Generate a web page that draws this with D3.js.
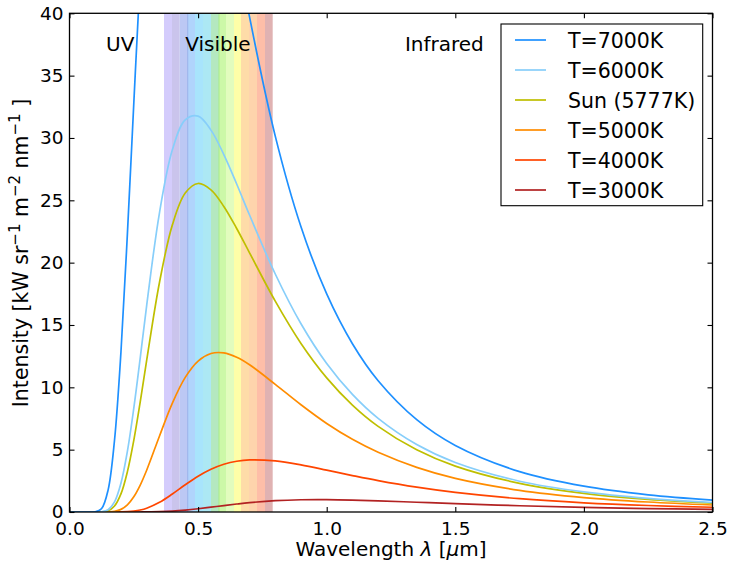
<!DOCTYPE html>
<html>
<head>
<meta charset="utf-8">
<script src="https://cdn.jsdelivr.net/npm/d3@7"></script>
<style>
  html, body { margin: 0; padding: 0; background: #fff; }
  svg { display: block; font-family: "DejaVu Sans", sans-serif; }
</style>
</head>
<body>
<svg id="chart" width="731" height="562"></svg>
<script>
// ---- data ----
const wavelengths = [0, 0.05, 0.10, 0.125, 0.15, 0.175, 0.20, 0.225, 0.25, 0.275, 0.30, 0.35, 0.40, 0.45, 0.50, 0.55, 0.60, 0.65, 0.70, 0.80, 0.90, 1.00, 1.10, 1.20, 1.35, 1.50, 1.75, 2.00, 2.25, 2.50];

const t7000 = [0, 0, 0.014, 0.282, 1.755, 5.754, 12.81, 22.27, 32.79, 43.00, 51.91, 64.02, 68.63, 67.72, 63.52, 57.75, 51.49, 45.37, 39.71, 30.15, 22.88, 17.49, 13.50, 10.53, 7.41, 5.34, 3.24, 2.07, 1.38, 0.96];
const t6000 = [0, 0, 0.0005, 0.018, 0.179, 0.812, 2.31, 4.86, 8.33, 12.37, 16.56, 24.02, 29.05, 31.45, 31.75, 30.63, 28.67, 26.31, 23.82, 19.09, 15.10, 11.91, 9.43, 7.51, 5.41, 3.97, 2.47, 1.61, 1.09, 0.76];
const tSun  = [0, 0, 0.0002, 0.009, 0.096, 0.479, 1.45, 3.22, 5.75, 8.83, 12.16, 18.43, 23.03, 25.58, 26.35, 25.84, 24.51, 22.74, 20.79, 16.91, 13.52, 10.76, 8.58, 6.87, 4.99, 3.68, 2.30, 1.50, 1.02, 0.71];
const t5000 = [0, 0, 0, 0.0004, 0.007, 0.052, 0.210, 0.576, 1.223, 2.162, 3.35, 6.10, 8.74, 10.80, 12.11, 12.71, 12.76, 12.41, 11.81, 10.24, 8.60, 7.10, 5.83, 4.79, 3.58, 2.70, 1.74, 1.16, 0.80, 0.56];
const t4000 = [0, 0, 0, 0, 0.0001, 0.0009, 0.006, 0.024, 0.069, 0.158, 0.304, 0.780, 1.446, 2.180, 2.865, 3.423, 3.825, 4.072, 4.181, 4.098, 3.776, 3.356, 2.922, 2.514, 1.988, 1.568, 1.066, 0.738, 0.523, 0.379];
const t3000 = [0, 0, 0, 0, 0, 0, 0, 0.0001, 0.0006, 0.002, 0.0056, 0.025, 0.072, 0.152, 0.260, 0.387, 0.517, 0.641, 0.751, 0.908, 0.983, 0.992, 0.957, 0.896, 0.783, 0.668, 0.501, 0.372, 0.278, 0.210];

const seriesNames  = ["T=7000K", "T=6000K", "Sun (5777K)", "T=5000K", "T=4000K", "T=3000K"];
const seriesValues = [t7000, t6000, tSun, t5000, t4000, t3000];
const seriesColors = ["#1e90ff", "#87cefa", "#bfbf00", "#ff8c00", "#ff4500", "#b22222"];

// visible-spectrum bands (edges in µm) and their colours
const bandEdges  = [0.3674, 0.3985, 0.4285, 0.4596, 0.4880, 0.5191, 0.5502, 0.5813, 0.6085, 0.6396, 0.6668, 0.6979, 0.7290, 0.7601, 0.7900];
const bandColors = ["#d4ccfc", "#cac4ec", "#bcc8f4", "#b0d4fc", "#a8e4fc", "#ace8f4", "#b4e8c0", "#ccf8a8", "#e2fcbe", "#fefea8", "#fedca8", "#fed4ac", "#febea8", "#e0b2b2"];
const bandLines  = [0.4596, 0.5813];
const bandLineColors = ["#98b0ea", "#a8ec88"];

const xTicks = [0, 0.5, 1.0, 1.5, 2.0, 2.5];
const yTicks = [0, 5, 10, 15, 20, 25, 30, 35, 40];

const regionLabels = ["UV", "Visible", "Infrared"];
const regionX = [0.142, 0.450, 1.304];
const regionY = 36.95;

// ---- layout ----
const L = 69.5, R = 712.5, T = 13.3, B = 512;
const svg = d3.select("#chart");
const x = d3.scaleLinear().domain([0, 2.5]).range([L, R]);
const y = d3.scaleLinear().domain([0, 40]).range([B, T]);

svg.append("defs").append("clipPath").attr("id", "plotclip")
  .append("rect").attr("x", L).attr("y", T).attr("width", R - L).attr("height", B - T);

const plot = svg.append("g").attr("clip-path", "url(#plotclip)");

// bands
const bands = d3.range(bandColors.length).map(i => ({x0: bandEdges[i], x1: bandEdges[i + 1], c: bandColors[i]}));
plot.selectAll("rect.band").data(bands).join("rect")
  .attr("class", "band")
  .attr("x", d => x(d.x0)).attr("width", d => x(d.x1) - x(d.x0))
  .attr("y", y(40)).attr("height", y(0) - y(40))
  .attr("fill", d => d.c);
plot.selectAll("line.bandline").data(bandLines).join("line")
  .attr("class", "bandline")
  .attr("x1", d => x(d)).attr("x2", d => x(d))
  .attr("y1", y(40)).attr("y2", y(0))
  .attr("stroke", (d, i) => bandLineColors[i]).attr("stroke-width", 1);

// curves
const line = d3.line()
  .x(d => x(d[0])).y(d => y(d[1]))
  .curve(d3.curveCatmullRom.alpha(0.5));

const series = seriesValues.map((vals, i) => ({
  name: seriesNames[i], color: seriesColors[i],
  pts: wavelengths.map((w, j) => [w, vals[j]])
}));
plot.selectAll("path.curve").data(series.slice().reverse()).join("path")
  .attr("class", "curve")
  .attr("d", d => line(d.pts))
  .attr("fill", "none")
  .attr("stroke", d => d.color)
  .attr("stroke-width", 1.7);

// region labels
svg.selectAll("text.region").data(regionLabels).join("text")
  .attr("class", "region")
  .attr("x", (d, i) => x(regionX[i])).attr("y", y(regionY))
  .attr("font-size", 20).attr("fill", "#000")
  .text(d => d);

// axes (inward ticks on all sides)
const tickLen = 5;
const styleAxis = g => {
  g.select(".domain").remove();
  g.selectAll(".tick line").attr("stroke", "#000").attr("stroke-width", 1.1);
  g.selectAll(".tick text").attr("fill", "#000").attr("font-size", 18.5).attr("font-family", "DejaVu Sans");
};
svg.append("g").attr("transform", `translate(0,${B})`)
  .call(d3.axisBottom(x).tickValues(xTicks).tickFormat(d3.format(".1f")).tickSizeInner(-tickLen).tickSizeOuter(0).tickPadding(10))
  .call(styleAxis);
svg.append("g").attr("transform", `translate(0,${T})`)
  .call(d3.axisTop(x).tickValues(xTicks).tickFormat("").tickSizeInner(-tickLen).tickSizeOuter(0))
  .call(styleAxis);
svg.append("g").attr("transform", `translate(${L},0)`)
  .call(d3.axisLeft(y).tickValues(yTicks).tickFormat(d3.format("d")).tickSizeInner(-tickLen).tickSizeOuter(0).tickPadding(6))
  .call(styleAxis);
svg.append("g").attr("transform", `translate(${R},0)`)
  .call(d3.axisRight(y).tickValues(yTicks).tickFormat("").tickSizeInner(-tickLen).tickSizeOuter(0))
  .call(styleAxis);

// frame
svg.append("rect").attr("x", L).attr("y", T).attr("width", R - L).attr("height", B - T)
  .attr("fill", "none").attr("stroke", "#000").attr("stroke-width", 1.3);

// x label
const xl = svg.append("text").attr("x", (L + R) / 2).attr("y", 556)
  .attr("text-anchor", "middle").attr("font-size", 20).attr("fill", "#000");
xl.append("tspan").text("Wavelength ");
xl.append("tspan").attr("font-style", "italic").text("λ");
xl.append("tspan").text(" [");
xl.append("tspan").attr("font-style", "italic").text("μ");
xl.append("tspan").text("m]");

// y label
const yl = svg.append("text").attr("transform", "translate(28,253) rotate(-90)")
  .attr("text-anchor", "middle").attr("font-size", 20.5).attr("fill", "#000");
yl.append("tspan").text("Intensity [kW sr");
yl.append("tspan").attr("dy", -8.5).attr("font-size", 15).text("−1");
yl.append("tspan").attr("dy", 8.5).text(" m");
yl.append("tspan").attr("dy", -8.5).attr("font-size", 15).text("−2");
yl.append("tspan").attr("dy", 8.5).text(" nm");
yl.append("tspan").attr("dy", -8.5).attr("font-size", 15).text("−1");
yl.append("tspan").attr("dy", 8.5).text(" ]");

// legend
const lg = svg.append("g");
lg.append("rect").attr("x", 501).attr("y", 24).attr("width", 201.7).attr("height", 181.7)
  .attr("fill", "#fff").attr("stroke", "#000").attr("stroke-width", 1.1);
const rows = lg.selectAll("g.row").data(series).join("g")
  .attr("class", "row")
  .attr("transform", (d, i) => `translate(0,${40 + i * 30})`);
rows.append("line").attr("x1", 515).attr("x2", 546).attr("y1", 0).attr("y2", 0)
  .attr("stroke", d => d.color).attr("stroke-width", 1.7);
rows.append("text").attr("x", 568).attr("y", 7.5)
  .attr("font-size", 20.5).attr("fill", "#000").text(d => d.name);
</script>
</body>
</html>
